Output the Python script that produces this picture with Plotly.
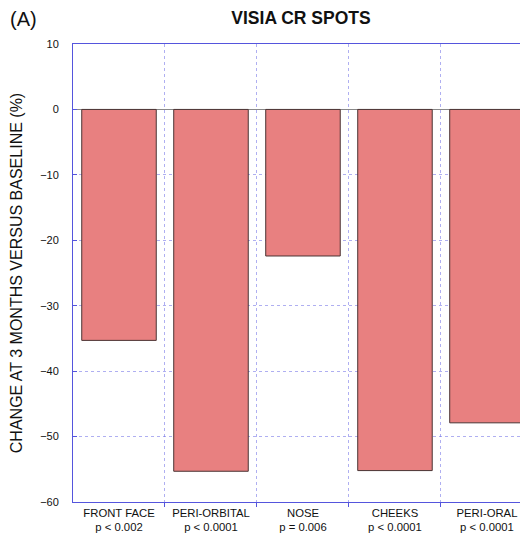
import plotly.graph_objects as go

categories = ["FRONT FACE", "PERI-ORBITAL", "NOSE", "CHEEKS", "PERI-ORAL"]
p_values = ["p < 0.002", "p < 0.0001", "p = 0.006", "p < 0.0001", "p < 0.0001"]
changes = [-35.3, -55.3, -22.4, -55.2, -47.9]
y_ticks = [10, 0, -10, -20, -30, -40, -50, -60]

tick_text = [f"{c}<br>{p}" for c, p in zip(categories, p_values)]
xpos = list(range(len(categories)))

fig = go.Figure()
fig.add_trace(go.Bar(
    x=xpos, y=changes, width=0.81,
    marker=dict(color="#E88080", line=dict(color="#4a3434", width=1)),
    showlegend=False,
))

axis_blue = "#5555DD"
grid_blue = "rgba(110,110,230,0.55)"

fig.update_layout(
    width=520, height=529,
    margin=dict(l=65, r=0, t=36, b=35, autoexpand=False),
    paper_bgcolor="white", plot_bgcolor="white",
    font=dict(family="Liberation Sans, Arial, sans-serif", color="#111111"),
    title=dict(text="<b>VISIA CR SPOTS</b>", x=0.5635, xanchor="center", y=0.981, yanchor="middle",
               font=dict(size=17.5, color="#111111"), automargin=False),
    xaxis=dict(
        range=[-0.5, 4.446], tickmode="array", tickvals=xpos, ticktext=tick_text,
        showgrid=False, showline=True, linecolor=axis_blue, linewidth=1, mirror=True,
        ticks="", tickfont=dict(size=11.3), zeroline=False, automargin=False,
        minor=dict(tickmode="array", tickvals=[0.5, 1.5, 2.5, 3.5], showgrid=True,
                   gridcolor=grid_blue, gridwidth=1, griddash="dot",
                   ticks="outside", ticklen=4, tickcolor=axis_blue),
    ),
    yaxis=dict(
        range=[-60, 10], tickmode="array", tickvals=y_ticks,
        showgrid=True, gridcolor=grid_blue, gridwidth=1, griddash="dot",
        showline=True, linecolor=axis_blue, linewidth=1, mirror=False,
        ticks="inside", ticklen=4, tickcolor=axis_blue,
        tickfont=dict(size=11), ticklabelstandoff=11, automargin=False,
        zeroline=True, zerolinecolor="#888888", zerolinewidth=1,
        title=dict(text="CHANGE AT 3 MONTHS VERSUS BASELINE (%)", font=dict(size=16), standoff=14),
    ),
    annotations=[dict(text="(A)", x=-0.1429, y=1.0545, xref="paper", yref="paper",
                      xanchor="left", yanchor="middle", showarrow=False,
                      font=dict(size=20, color="#111111"))],
)

fig.write_html("out.html")
